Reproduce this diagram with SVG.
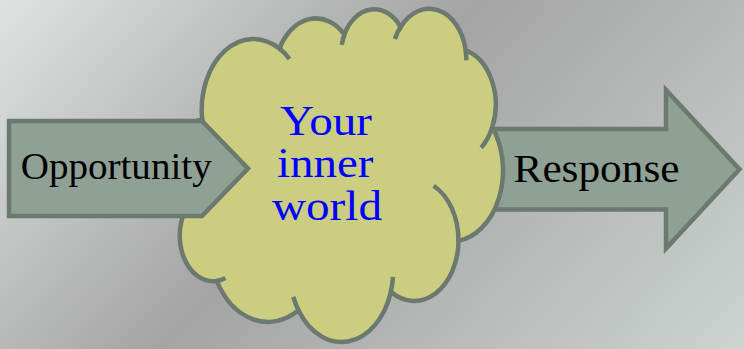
<svg xmlns="http://www.w3.org/2000/svg" width="744" height="349" viewBox="0 0 744 349">
<defs>
<linearGradient id="bg" gradientUnits="userSpaceOnUse" x1="0" y1="0" x2="578" y2="530">
<stop offset="0" stop-color="#dee3e1"/>
<stop offset="0.45" stop-color="#a4a4a4"/>
<stop offset="1" stop-color="#ccd3d0"/>
</linearGradient>
<style>
.shape{stroke:#6c796e;stroke-width:4.5;stroke-linejoin:miter}
.arrow{fill:#8fa094}
.cloud{fill:#cbce80}
.cl{fill:none;stroke:#6c796e;stroke-width:4.5;vector-effect:non-scaling-stroke}
.co{fill:#cbce80;stroke:#6c796e;stroke-width:4.5;vector-effect:non-scaling-stroke}
.lbl{font-family:"Liberation Serif","Times New Roman",serif;fill:#000}
.inner{font-family:"Liberation Serif","Times New Roman",serif;fill:#0000ff;font-size:42px}
</style>
</defs>
<rect width="744" height="349" fill="url(#bg)"/>
<g id="connectors"></g>
<g id="response">
<path class="shape arrow" d="M470,129 L666,129 L666,90 L739.5,169.3 L666,248.5 L666,209.5 L470,209.5 Z"/>
<text class="lbl" x="513.5" y="181.5" font-size="41" textLength="166" lengthAdjust="spacingAndGlyphs">Response</text>
</g>
<g id="inner-world">
<g transform="translate(172.35 8.5) scale(0.007654 0.007722)">
<path class="co" d="M3900,14370 A6753,9190 0 0 1 14000,5192 A5333,7267 0 0 1 22475,3375 A4365,5945 0 0 1 29824,2405 A4857,6595 0 0 1 38324,5426 A5333,7273 0 0 1 41798,15354 A6775,9220 0 0 1 37384,30097 A5785,7867 0 0 1 28548,36683 A6752,9215 0 0 1 16478,39090 A7720,10543 0 0 1 5811,35288 A4360,5918 0 0 1 2135,25377 A4345,5945 0 0 1 3900,14370 Z"/>
<path class="cl" d="M4693,26177 A4345,5945 0 0 1 2135,25377 M6928,34899 A4360,5918 0 0 1 5811,35288 M16478,39090 A6752,9215 0 0 1 15810,37350 M28827,34751 A6752,9215 0 0 1 28548,36683 M34129,22954 A5785,7867 0 0 1 37384,30097 M41798,15354 A5333,7273 0 0 1 40351,18030 M38324,5426 A4857,6595 0 0 1 38400,6689 M29078,3952 A4857,6595 0 0 1 29824,2405 M22141,4720 A4365,5945 0 0 1 22475,3375 M14000,5192 A6753,9190 0 0 1 15300,6541 M4127,15789 A6753,9190 0 0 1 3900,14370"/>
</g>
<text class="inner" x="280" y="135" textLength="92" lengthAdjust="spacingAndGlyphs">Your</text>
<text class="inner" x="277" y="176.7" textLength="96.5" lengthAdjust="spacingAndGlyphs">inner</text>
<text class="inner" x="272" y="220" textLength="110" lengthAdjust="spacingAndGlyphs">world</text>
</g>
<g id="opportunity">
<path class="shape arrow" d="M9,121 L202,121 L248,168.5 L202,216 L9,216 Z"/>
<text class="lbl" x="20.7" y="179" font-size="37" textLength="191" lengthAdjust="spacingAndGlyphs">Opportunity</text>
</g>
</svg>
